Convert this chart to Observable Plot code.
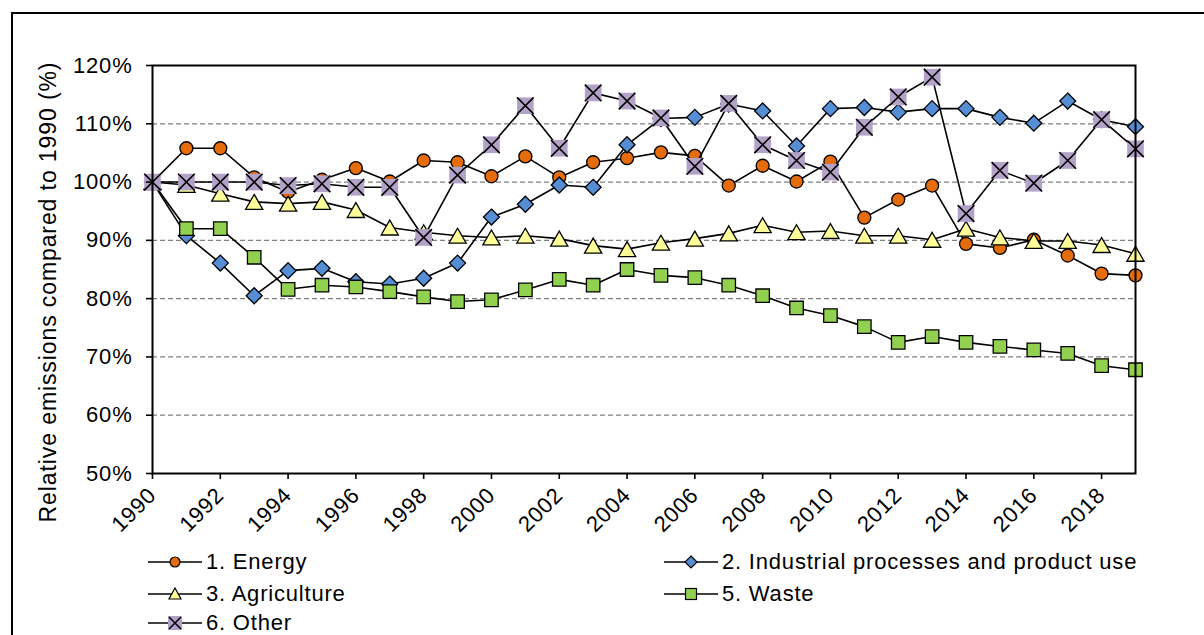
<!DOCTYPE html>
<html><head><meta charset="utf-8">
<script src="https://cdn.jsdelivr.net/npm/d3@7"></script>
<script src="https://cdn.jsdelivr.net/npm/@observablehq/plot@0.6"></script>
<style>
html,body{margin:0;padding:0;background:#fff;overflow:hidden;width:1204px;height:635px}
body{position:relative;font-family:"Liberation Sans",Arial,sans-serif;color:#000}
#frame{position:absolute;left:11px;top:12px;width:1400px;height:900px;border:2px solid #000;box-sizing:border-box}
#chart{position:absolute;left:0;top:0}
#ytitle{position:absolute;left:48px;top:292px;transform:translate(-50%,-50%) rotate(-90deg);white-space:nowrap;font-size:23px;letter-spacing:0.9px}
#legend{position:absolute;left:0;top:545px;width:1204px;height:120px}
.item{position:absolute;display:flex;align-items:center;height:26px;font-size:22px;letter-spacing:0.8px;white-space:nowrap}
.item svg{margin-right:4px}
</style></head><body>
<div id="frame"></div>
<div id="chart"></div>
<div id="ytitle">Relative emissions compared to 1990 (%)</div>
<div id="legend"></div>
<script>
const years = [1990,1991,1992,1993,1994,1995,1996,1997,1998,1999,2000,2001,2002,2003,2004,2005,2006,2007,2008,2009,2010,2011,2012,2013,2014,2015,2016,2017,2018,2019];
const energy = [100,105.8,105.8,100.8,98.3,100.4,102.4,100.1,103.7,103.4,101.0,104.4,100.8,103.4,104.1,105.1,104.5,99.4,102.8,100.1,103.5,93.9,97.0,99.4,89.4,88.7,90.1,87.4,84.3,84.0];
const industrial = [100,90.8,86.1,80.5,84.8,85.2,82.9,82.5,83.5,86.1,94.0,96.2,99.5,99.1,106.4,110.9,111.1,113.4,112.2,106.2,112.6,112.8,112.0,112.6,112.6,111.1,110.1,113.9,110.7,109.5];
const agriculture = [100,99.5,98.0,96.6,96.3,96.6,95.2,92.2,91.4,90.8,90.5,90.8,90.3,89.1,88.5,89.6,90.3,91.2,92.6,91.4,91.6,90.8,90.8,90.1,92.0,90.5,89.9,89.9,89.2,87.7];
const waste = [100,92.0,92.0,87.1,81.6,82.3,82.0,81.2,80.3,79.5,79.8,81.5,83.3,82.3,85.0,84.0,83.6,82.3,80.5,78.4,77.1,75.2,72.5,73.5,72.5,71.8,71.2,70.6,68.5,67.8];
const other = [100,100,100,100,99.4,99.7,99.1,99.1,90.5,101.2,106.4,113.1,105.8,115.3,113.9,111.0,102.7,113.5,106.4,103.7,101.7,109.4,114.6,118.0,94.6,102.0,99.8,103.7,110.7,105.7];
const seriesNames = ["1. Energy","2. Industrial processes and product use","3. Agriculture","5. Waste","6. Other"];
const xTicks = [1990,1992,1994,1996,1998,2000,2002,2004,2006,2008,2010,2012,2014,2016,2018];
const yTicks = [50,60,70,80,90,100,110,120];
const gridLines = [60,70,80,90,100,110];

const seriesValues = [energy, industrial, agriculture, waste, other];
const styles = [
  {symbol:"circle", r:6.5, fill:"#E46C0A"},
  {symbol:"diamond2", r:7.2, fill:"#558ED5"},
  {symbol:"triangle", r:6.4, fill:"#FFFF99", dy:2.5},
  {symbol:"square", r:7.6, fill:"#92D050"},
  {symbol:"square", r:9.4, fill:"#B3A2C7"}
];
const tables = seriesValues.map((vals, k) => years.map((yr, i) => ({series: seriesNames[k], year: yr, value: vals[i]})));

const marks = [
  Plot.ruleY(gridLines, {stroke:"#808080", strokeWidth:1.3, strokeDasharray:"5,3"})
];
tables.forEach((t, k) => {
  marks.push(Plot.line(t, {x:"year", y:"value", stroke:"#000", strokeWidth:1.6}));
  const s = styles[k];
  if (k === 4) {
    marks.push(Plot.dot(t, {x:"year", y:"value", symbol:"square", r:s.r, fill:s.fill, stroke:"none"}));
    marks.push(Plot.dot(t, {x:"year", y:"value", symbol:"times", r:7.6, stroke:"#000", strokeWidth:1.6}));
  } else {
    marks.push(Plot.dot(t, {x:"year", y:"value", symbol:s.symbol, r:s.r, fill:s.fill, stroke:"#000", strokeWidth:1.3, dy:s.dy || 0}));
  }
});
marks.push(Plot.frame({stroke:"#000", strokeWidth:2}));
marks.push(Plot.axisY({ticks:yTicks, tickFormat:d => d + "%", tickSize:6, tickPadding:14, label:null, strokeWidth:1.6}));
marks.push(Plot.axisX({ticks:xTicks, tickFormat:d => String(d), tickRotate:-45, tickSize:6, tickPadding:12, label:null, strokeWidth:1.6}));

const chart = Plot.plot({
  width:1204, height:545,
  marginLeft:152, marginRight:69, marginTop:65, marginBottom:72,
  x:{domain:[1990,2019]},
  y:{domain:[50,120]},
  style:{fontFamily:"'Liberation Sans', Arial, sans-serif", fontSize:"22px", letterSpacing:"0.8px", color:"#000", background:"transparent", overflow:"visible"},
  marks
});
document.getElementById("chart").appendChild(chart);

// legend
const legendPos = [
  {left:148, top:562},
  {left:664, top:562},
  {left:148, top:594},
  {left:664, top:594},
  {left:148, top:623}
];
const legend = document.getElementById("legend");
seriesNames.forEach((name, k) => {
  const div = document.createElement("div");
  div.className = "item";
  div.style.left = legendPos[k].left + "px";
  div.style.top = (legendPos[k].top - 545 - 13) + "px";
  const cx = 27, cy = 13;
  let marker = "";
  if (k === 0) marker = `<circle cx="${cx}" cy="${cy}" r="5" fill="${styles[0].fill}" stroke="#000" stroke-width="1.2"/>`;
  if (k === 1) marker = `<path d="M${cx},${cy-6}L${cx+6},${cy}L${cx},${cy+6}L${cx-6},${cy}Z" fill="${styles[1].fill}" stroke="#000" stroke-width="1.2"/>`;
  if (k === 2) marker = `<path d="M${cx},${cy-6}L${cx+6},${cy+5}L${cx-6},${cy+5}Z" fill="${styles[2].fill}" stroke="#000" stroke-width="1.2"/>`;
  if (k === 3) marker = `<rect x="${cx-5.5}" y="${cy-5.5}" width="11" height="11" fill="${styles[3].fill}" stroke="#000" stroke-width="1.2"/>`;
  if (k === 4) marker = `<rect x="${cx-7}" y="${cy-7}" width="14" height="14" fill="${styles[4].fill}"/><path d="M${cx-6},${cy-6}L${cx+6},${cy+6}M${cx+6},${cy-6}L${cx-6},${cy+6}" stroke="#000" stroke-width="1.5"/>`;
  div.innerHTML = `<svg width="54" height="26"><line x1="0" x2="54" y1="${cy}" y2="${cy}" stroke="#000" stroke-width="1.5"/>${marker}</svg><span>${name}</span>`;
  legend.appendChild(div);
});
</script>
</body></html>
